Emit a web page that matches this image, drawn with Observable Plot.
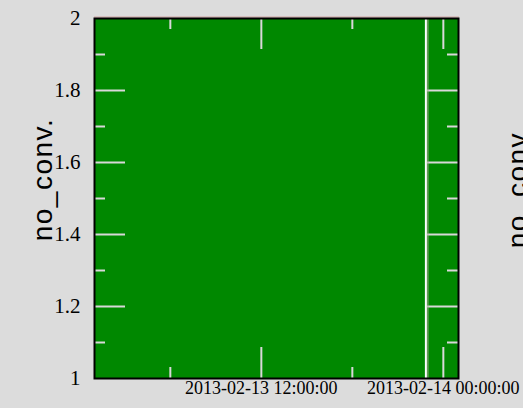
<!DOCTYPE html>
<html>
<head>
<meta charset="utf-8">
<script src="https://cdn.jsdelivr.net/npm/d3@7"></script>
<script src="https://cdn.jsdelivr.net/npm/@observablehq/plot@0.6"></script>
<style>
  html, body { margin: 0; padding: 0; background: #dcdcdc; overflow: hidden; }
</style>
</head>
<body>
<div id="chart"></div>
<script>
// Data series (no_conv. over time)
const times = ["2013-02-13T01:00:00Z", "2013-02-13T22:51:00Z", "2013-02-13T22:59:00Z", "2013-02-14T01:00:00Z"];
const values = [2, 2, 2, 2];
// gap marker and drop line
const gapTimes = ["2013-02-13T22:51:00Z"];
const dropTimes = ["2013-02-13T22:59:00Z", "2013-02-13T22:59:00Z"];
const dropValues = [2, 1];
// axis ticks
const xDomain = ["2013-02-13T01:00:00Z", "2013-02-14T01:00:00Z"];
const xMajor = ["2013-02-13T12:00:00Z", "2013-02-14T00:00:00Z"];
const xMinor = ["2013-02-13T06:00:00Z", "2013-02-13T18:00:00Z"];
const yDomain = [1, 2];
const yMajor = [1, 1.2, 1.4, 1.6, 1.8, 2];
const yMinor = [1.1, 1.3, 1.5, 1.7, 1.9];
const yLabel = "no_conv.";

const series = times.map((t, i) => ({t: new Date(t), v: values[i]}));
const drop = dropTimes.map((t, i) => ({t: new Date(t), v: dropValues[i]}));
const dates = a => a.map(d => new Date(d));

const tickColor = "#d8d8d8";
const chart = Plot.plot({
  width: 523,
  height: 408,
  marginLeft: 94,
  marginRight: 65,
  marginTop: 18,
  marginBottom: 30,
  style: {background: "#dcdcdc", overflow: "visible"},
  x: {type: "utc", domain: dates(xDomain)},
  y: {domain: yDomain},
  marks: [
    Plot.areaY(series, {x: "t", y1: yDomain[0], y2: "v", fill: "#008800", curve: "step-after"}),
    // ticks (inward, on all four sides)
    Plot.ruleX(dates(xMajor), {stroke: tickColor, strokeWidth: 2, insetTop: 329}),
    Plot.ruleX(dates(xMajor), {stroke: tickColor, strokeWidth: 2, insetBottom: 329}),
    Plot.ruleX(dates(xMinor), {stroke: tickColor, strokeWidth: 2, insetTop: 349}),
    Plot.ruleX(dates(xMinor), {stroke: tickColor, strokeWidth: 2, insetBottom: 349}),
    Plot.ruleY(yMajor.slice(1, -1), {stroke: tickColor, strokeWidth: 2, insetRight: 333}),
    Plot.ruleY(yMajor.slice(1, -1), {stroke: tickColor, strokeWidth: 2, insetLeft: 333}),
    Plot.ruleY(yMinor, {stroke: tickColor, strokeWidth: 2, insetRight: 353}),
    Plot.ruleY(yMinor, {stroke: tickColor, strokeWidth: 2, insetLeft: 353}),
    Plot.ruleX(dates(gapTimes), {stroke: "white", strokeWidth: 2}),
    Plot.line(drop, {x: "t", y: "v", stroke: "#a8a890", strokeWidth: 1}),
    Plot.lineY(series, {x: "t", y: "v", stroke: "#c87878", strokeWidth: 1, strokeOpacity: 0.6, dy: -1.5}),
    Plot.frame({stroke: "black", strokeWidth: 2}),
    Plot.axisX({ticks: dates(xMajor), tickSize: 0, tickPadding: 3, tickFormat: d3.utcFormat("%Y-%m-%d %H:%M:%S"),
      fontFamily: "Liberation Serif", fontSize: 18, fill: "black", label: null}),
    Plot.axisY({ticks: yMajor, tickSize: 0, tickPadding: 14, tickFormat: d => String(d),
      fontFamily: "Liberation Serif", fontSize: 21, fill: "black", label: null}),
    Plot.text([yLabel], {frameAnchor: "left", text: d => d, rotate: -90, textAnchor: "middle", dx: -51, dy: -19,
      fontFamily: "Liberation Sans", fontSize: 28, fill: "black"}),
    Plot.text([yLabel], {frameAnchor: "right", text: d => d, rotate: -90, textAnchor: "middle", dx: 60, dy: -12,
      fontFamily: "Liberation Sans", fontSize: 28, fill: "black"})
  ]
});
// slightly widen the rotated axis titles, as in the reference
d3.select(chart).selectAll("text")
  .filter(function() { return this.textContent === yLabel; })
  .style("letter-spacing", "1.5px");
document.getElementById("chart").appendChild(chart);
</script>
</body>
</html>
